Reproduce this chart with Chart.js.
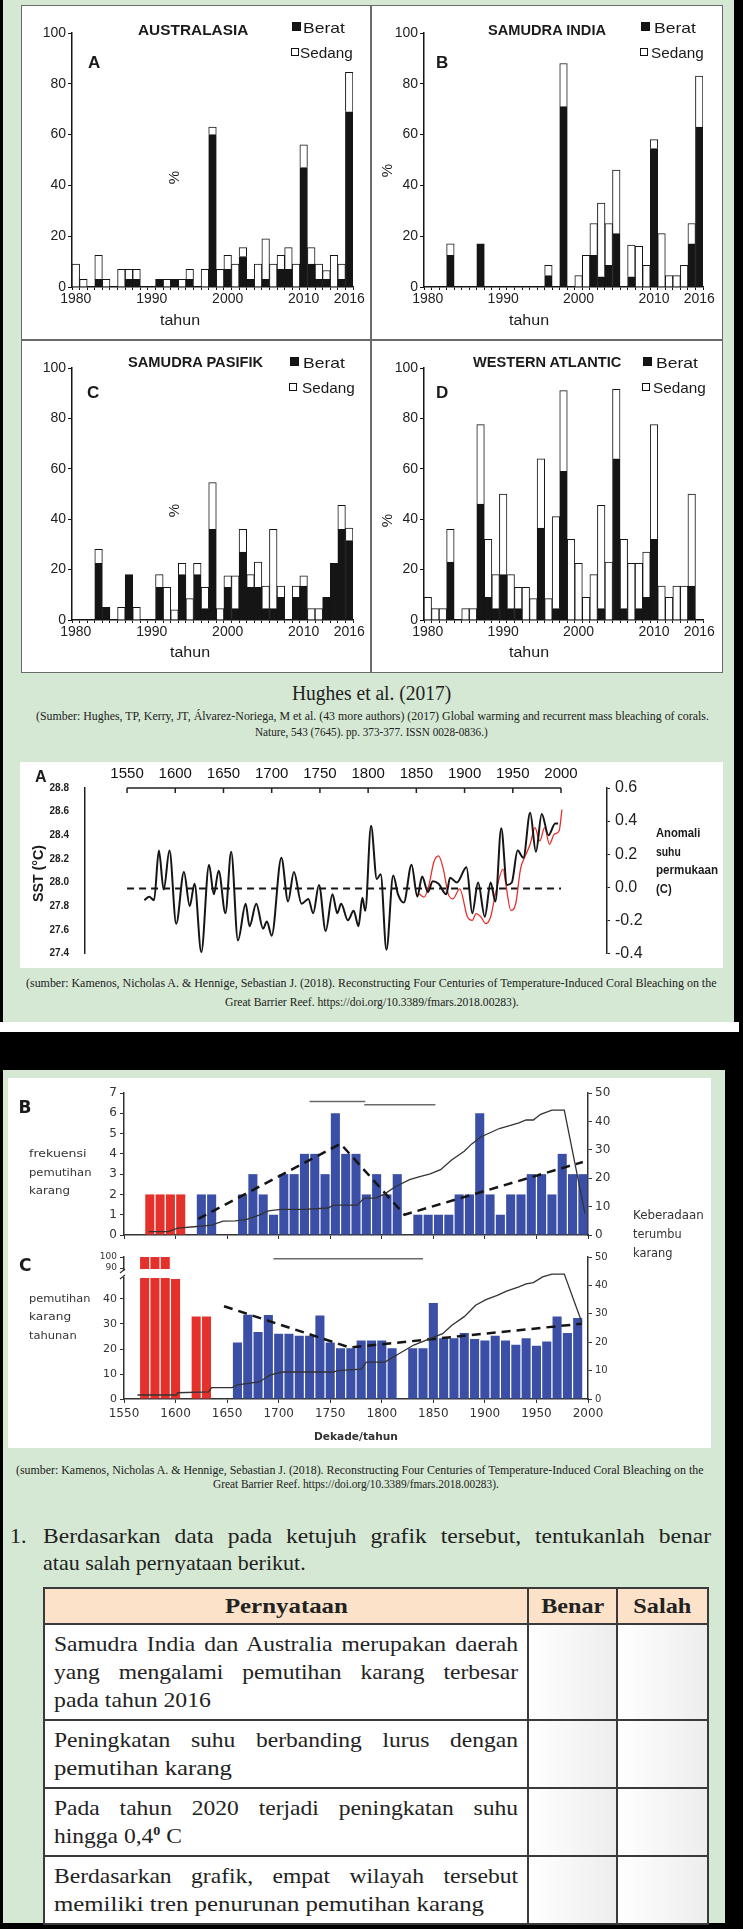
<!DOCTYPE html>
<html lang="id">
<head>
<meta charset="utf-8">
<title>Pemutihan karang</title>
<script src="https://cdn.jsdelivr.net/npm/chart.js@4.4.1/dist/chart.umd.min.js"></script>
<style>
  html, body { margin: 0; padding: 0; }
  body { width: 743px; height: 1929px; background: #000; position: relative; overflow: hidden;
         font-family: 'Liberation Sans', Arial, sans-serif; color: #1a1a1a; }
  .blk { position: absolute; }
  .green { background: #d5e8d3; }
  canvas { position: absolute; }
  .t { position: absolute; white-space: nowrap; line-height: 1; }
  .sq { position: absolute; box-sizing: border-box; border: 1px solid #111; }
  #tbl { position: absolute; left: 43px; top: 1587px; width: 664px; border-collapse: collapse;
         table-layout: fixed; font-family: 'Liberation Serif', serif; font-size: 22px; color: #222; }
  #tbl th, #tbl td { border: 2px solid #3a3a3a; padding: 5px 9px; vertical-align: top; line-height: 28px; }
  #tbl th { background: #fce2c8; text-align: center; vertical-align: middle; padding: 0; }
  #tbl td.st { background: #fff; }
  #tbl td.box { background: linear-gradient(to right, #fff, #ededed); }
  .ln { display: block; width: max-content; white-space: nowrap; transform-origin: 0 50%; }
  th .ln { display: inline-block; transform-origin: 50% 50%; }
  sup { font-size: 0.6em; font-weight: bold; line-height: 0; }
</style>
</head>
<body>

<div class="blk green" style="left:3px;top:0;width:731px;height:1022px"></div>
<div class="blk" style="left:0;top:1022px;width:739px;height:10px;background:#fff"></div>
<div class="blk green" style="left:3px;top:1070px;width:722px;height:853px"></div>

<!-- kotak empat panel -->
<div class="blk" style="left:21px;top:5px;width:702px;height:668px;background:#fff;border:1.5px solid #6a6a6a;box-sizing:border-box"></div>
<div class="blk" style="left:370px;top:5px;width:1.5px;height:668px;background:#6a6a6a"></div>
<div class="blk" style="left:21px;top:339px;width:702px;height:1.5px;background:#6a6a6a"></div>
<canvas id="cA" width="349" height="335" style="left:22px;top:5px"></canvas>
<canvas id="cB" width="352" height="335" style="left:371px;top:5px"></canvas>
<canvas id="cC" width="349" height="333" style="left:22px;top:340px"></canvas>
<canvas id="cD" width="352" height="333" style="left:371px;top:340px"></canvas>

<!-- grafik SST -->
<div class="blk" style="left:20px;top:762px;width:703px;height:206px;background:#fff"></div>
<canvas id="cSST" width="703" height="206" style="left:20px;top:762px"></canvas>

<!-- grafik B / C dekade -->
<div class="blk" style="left:8px;top:1078px;width:703px;height:370px;background:#fff"></div>
<canvas id="cFreq" width="703" height="170" style="left:8px;top:1078px"></canvas>
<canvas id="cAnnual" width="703" height="200" style="left:8px;top:1248px"></canvas>

<table id="tbl">
  <colgroup><col style="width:484px"><col style="width:89px"><col style="width:91px"></colgroup>
  <tr style="height:36px">
    <th><span class="ln" data-w="123">Pernyataan</span></th>
    <th><span class="ln" data-w="63">Benar</span></th>
    <th><span class="ln" data-w="58">Salah</span></th>
  </tr>
  <tr style="height:95px">
    <td class="st">
      <div class="ln" data-w="464" data-j="1">Samudra India dan Australia merupakan daerah</div>
      <div class="ln" data-w="464" data-j="1">yang mengalami pemutihan karang terbesar</div>
      <div class="ln" data-w="157">pada tahun 2016</div>
    </td><td class="box"></td><td class="box"></td>
  </tr>
  <tr style="height:65px">
    <td class="st">
      <div class="ln" data-w="464" data-j="1">Peningkatan suhu berbanding lurus dengan</div>
      <div class="ln" data-w="178">pemutihan karang</div>
    </td><td class="box"></td><td class="box"></td>
  </tr>
  <tr style="height:66px">
    <td class="st">
      <div class="ln" data-w="464" data-j="1">Pada tahun 2020 terjadi peningkatan suhu</div>
      <div class="ln" data-w="128">hingga 0,4<sup>0</sup> C</div>
    </td><td class="box"></td><td class="box"></td>
  </tr>
  <tr style="height:65px">
    <td class="st">
      <div class="ln" data-w="464" data-j="1">Berdasarkan grafik, empat wilayah tersebut</div>
      <div class="ln" data-w="430">memiliki tren penurunan pemutihan karang</div>
    </td><td class="box"></td><td class="box"></td>
  </tr>
</table>

<script>
// ── Data: Hughes et al. (2017), persen terumbu yang memutih per tahun ──
const YEARS = Array.from({ length: 37 }, (_, i) => 1980 + i);
const YEAR_LABELS = [1980, 1990, 2000, 2010, 2016];

const AUS_TOTAL = [9, 3, 0, 12.5, 3, 0, 7, 7, 7, 0,   0, 3, 3, 3, 3, 7, 0, 7, 63, 7,
                   12.5, 9, 15.5, 3, 9, 19, 9, 12.5, 15.5, 9,   56, 15.5, 9, 6.5, 12.5, 9, 84.5];
const AUS_BERAT = [0, 0, 0, 3, 0, 0, 0, 3, 3, 0,   0, 3, 0, 3, 0, 3, 0, 0, 60, 0,
                   7, 0, 12, 3, 0, 3, 0, 7, 7, 0,   47, 9, 3, 3, 0, 3, 69];

const IND_TOTAL = [0, 0, 0, 17, 0, 0, 0, 17, 0, 0,   0, 0, 0, 0, 0, 0, 8.5, 0, 88, 0,
                   4.5, 12.5, 25, 33, 25, 46, 0, 16.5, 16, 8.5,   58, 21, 4.5, 4.5, 8.5, 25, 83];
const IND_BERAT = [0, 0, 0, 12.5, 0, 0, 0, 17, 0, 0,   0, 0, 0, 0, 0, 0, 4.5, 0, 71, 0,
                   0, 0, 12.5, 4, 8.5, 21, 0, 4, 0, 0,   54.5, 0, 0, 0, 0, 17, 63];

const PAC_TOTAL = [0, 0, 0, 28, 5, 0, 5, 18, 5, 0,   0, 18, 13, 4, 22.5, 8.5, 22.5, 13, 54.5, 4.5,
                   17.5, 17.5, 36, 18, 23, 13.5, 36, 13.5, 0, 13.5,   17.5, 4.5, 4.5, 9, 22.5, 45.5, 36.5];
const PAC_BERAT = [0, 0, 0, 22.5, 5, 0, 0, 18, 0, 0,   0, 13, 0, 0, 18, 0, 18, 4.5, 36, 0,
                   13, 4.5, 27, 13, 13, 4.5, 4.5, 9, 0, 9,   13.5, 0, 0, 9, 22.5, 36, 31.5];

const ATL_TOTAL = [9, 4.5, 4.5, 36, 0, 4.5, 4.5, 77.5, 32, 18,   50, 18, 13, 13, 8.5, 64, 8.5, 41, 91, 32,
                   22.5, 9, 18, 45.5, 23, 91.5, 32, 22.5, 22.5, 27,   77.5, 13.5, 9, 13.5, 13.5, 50, 0];
const ATL_BERAT = [0, 0, 0, 23, 0, 0, 0, 46, 9, 4.5,   18, 4.5, 4.5, 0, 0, 36.5, 0, 4.5, 59, 0,
                   0, 0, 0, 4.5, 0, 64, 4.5, 0, 4.5, 9,   32, 0, 0, 0, 0, 13.5, 0];

// ── Data: SST Great Barrier Reef (Kamenos & Hennige 2018) ──
const SST_YEARS = [1568, 1573, 1578, 1583, 1588, 1594, 1601, 1609, 1615, 1620, 1627, 1635, 1640, 1645,
  1652, 1658, 1665, 1673, 1677, 1684, 1691, 1695, 1700, 1710, 1717, 1723, 1731, 1738, 1743, 1749, 1756,
  1763, 1768, 1772, 1779, 1785, 1790, 1794, 1797, 1803, 1809, 1813, 1819, 1826, 1831, 1837, 1845, 1851,
  1856, 1862, 1867, 1873, 1881, 1885, 1892, 1902, 1908, 1914, 1921, 1927, 1932, 1938, 1944, 1949, 1955,
  1961, 1968, 1974, 1980, 1987, 1994, 1997];
const SST_VALUES = [27.85, 27.88, 27.85, 28.27, 27.94, 28.27, 27.65, 28.09, 27.80, 27.99, 27.41, 28.15,
  27.90, 28.10, 27.74, 28.26, 27.51, 27.82, 27.63, 27.82, 27.61, 27.67, 27.55, 28.21, 27.84, 28.09, 27.82,
  27.86, 27.74, 27.98, 27.59, 27.90, 27.74, 27.82, 27.68, 27.76, 27.63, 27.87, 27.76, 28.48, 28.03, 28.07,
  27.43, 28.06, 27.90, 27.83, 28.15, 27.88, 28.05, 27.92, 28.01, 27.99, 27.90, 28.04, 28.00, 28.13, 27.74,
  28.00, 27.71, 28.00, 27.84, 28.46, 27.98, 28.00, 28.27, 28.21, 28.59, 28.26, 28.58, 28.40, 28.50, 28.50];
const SST_MEAN = 27.95;
const SST_MEAN_SPAN = [1550, 2000];

const ANOM_YEARS = [1853, 1858, 1863, 1868, 1873, 1878, 1883, 1888, 1895, 1903, 1908, 1912, 1917, 1922,
  1927, 1932, 1940, 1943, 1948, 1953, 1958, 1963, 1968, 1973, 1978, 1983, 1988, 1993, 1998, 2001];
const ANOM_VALUES = [-0.04, -0.06, 0.01, 0.15, 0.19, 0.11, -0.04, -0.07, -0.01, -0.18, -0.20, -0.16, -0.18,
  -0.22, -0.18, -0.04, 0.11, 0.01, -0.14, -0.10, 0.11, 0.19, 0.26, 0.36, 0.28, 0.36, 0.26, 0.32, 0.34, 0.47];

const SST_TICKS = [1550, 1600, 1650, 1700, 1750, 1800, 1850, 1900, 1950, 2000];
const SST_LEFT_TICKS = [27.4, 27.6, 27.8, 28.0, 28.2, 28.4, 28.6, 28.8];
const SST_RIGHT_TICKS = [-0.4, -0.2, 0.0, 0.2, 0.4, 0.6];

// ── Data: frekuensi pemutihan per dekade (B) ──
const FREQ_RED_DECADES = [1570, 1580, 1590, 1600];
const FREQ_RED = [2, 2, 2, 2];
const FREQ_BLUE_DECADES = [1620, 1630, 1640, 1650, 1660, 1670, 1680, 1690, 1700, 1710, 1720, 1730, 1740,
  1750, 1760, 1770, 1780, 1790, 1800, 1810, 1820, 1830, 1840, 1850, 1860, 1870, 1880, 1890, 1900, 1910,
  1920, 1930, 1940, 1950, 1960, 1970, 1980, 1990];
const FREQ_BLUE = [2, 2, 0, 0, 2, 3, 2, 1, 3, 3, 4, 4, 3, 6, 4, 4, 2, 3, 2, 3, 0, 1, 1, 1, 1, 2, 2, 6, 2, 1,
  2, 2, 3, 3, 2, 4, 3, 3];
const FREQ_TREND_YEARS = [1622, 1760, 1822, 1995];
const FREQ_TREND = [0.8, 4.5, 1.0, 3.6];
const REEF_B_YEARS = [1574, 1593, 1602, 1618, 1635, 1646, 1658, 1669, 1681, 1690, 1702, 1725, 1748, 1753,
  1776, 1783, 1794, 1803, 1813, 1827, 1836, 1847, 1857, 1868, 1880, 1887, 1896, 1905, 1914, 1924, 1933,
  1940, 1947, 1954, 1965, 1975, 1977, 1997];
const REEF_B = [1.2, 1.2, 2.4, 2.9, 3.5, 4.9, 5, 5.5, 7, 8.5, 9, 9, 9.5, 10.5, 10.5, 13, 13, 14.5, 17, 19.5,
  20.5, 21.5, 23, 26.5, 29.5, 32, 34.5, 36, 37.5, 38.5, 39.5, 40.5, 40.5, 42.5, 44, 44, 44, 7.6];
const FREQ_PERIODS = [[1730, 1784], [1783, 1852]];
const FREQ_PERIOD_LEVELS = [47, 45.9];

// ── Data: persen pemutihan karang tahunan (C) ──
const ANN_RED_YEARS = [1565, 1575, 1585, 1595, 1615, 1625];
const ANN_RED = [100, 100, 100, 48, 33, 33];
const ANN_BLUE_YEARS = [1655, 1665, 1675, 1685, 1695, 1705, 1715, 1725, 1735, 1745, 1755, 1765, 1775, 1785,
  1795, 1805, 1815, 1825, 1835, 1845, 1855, 1865, 1875, 1885, 1895, 1905, 1915, 1925, 1935, 1945, 1955,
  1965, 1975, 1985];
const ANN_BLUE = [22.6, 33.7, 26.8, 33.6, 26.1, 26.1, 25.3, 25.3, 33.4, 22.6, 20.3, 20.3, 23.4, 23.4, 23.4,
  20.3, 0, 20.3, 20.3, 38.4, 24.3, 24.3, 26.4, 24, 23.4, 25.3, 23.4, 21.7, 24.3, 21.3, 23, 33, 26.4, 32.4];
const ANN_TREND_YEARS = [1647, 1769, 1994];
const ANN_TREND = [37.1, 20.6, 30.1];
const REEF_C_YEARS = [1563, 1601, 1602, 1632, 1635, 1655, 1660, 1681, 1692, 1704, 1753, 1757, 1780, 1785,
  1803, 1817, 1831, 1845, 1859, 1868, 1880, 1891, 1901, 1912, 1921, 1933, 1940, 1947, 1956, 1965, 1975,
  1977, 1994];
const REEF_C = [1.4, 1.4, 2.2, 2.5, 4, 4, 5, 6, 8.5, 9.5, 9.5, 10, 10.5, 13, 13, 16, 19, 21, 23, 26, 29, 33,
  35, 36.5, 38, 39.5, 40.5, 41, 43, 44, 44, 44, 27];
const ANN_PERIOD = [1695, 1840];
const ANN_PERIOD_LEVEL = 49.4;
const DECADE_TICKS = [1550, 1600, 1650, 1700, 1750, 1800, 1850, 1900, 1950, 2000];

const RED = '#e4312b';
const BLUE = '#3b4fa6';
const INK = '#151515';

Chart.defaults.font.family = "'Liberation Sans', Arial, sans-serif";
Chart.defaults.color = '#222';

const baseOpts = {
  responsive: false, animation: false, devicePixelRatio: 1,
  plugins: { legend: { display: false }, tooltip: { enabled: false } },
};

// ── Panel batang bertumpuk (Berat / Sedang) ──
function regionPanel(id, berat, total, yWidth, padRight, xHeight) {
  const sedang = total.map((t, i) => Math.max(0, +(t - berat[i]).toFixed(1)));
  return new Chart(document.getElementById(id), {
    type: 'bar',
    data: {
      labels: YEARS,
      datasets: [
        { label: 'Berat', data: berat, backgroundColor: INK, borderColor: INK, borderWidth: 1 },
        { label: 'Sedang', data: sedang, backgroundColor: '#fff', borderColor: INK, borderWidth: 1 },
      ],
    },
    options: {
      ...baseOpts,
      layout: { padding: { left: 0, right: padRight, top: 28, bottom: 0 } },
      datasets: { bar: { barPercentage: 1, categoryPercentage: 1 } },
      scales: {
        x: {
          stacked: true,
          grid: { drawOnChartArea: false, tickLength: 3, color: INK },
          border: { color: INK, width: 1.5 },
          ticks: {
            autoSkip: false, maxRotation: 0, padding: 1, color: '#222', font: { size: 14 },
            callback: (v, i) => (YEAR_LABELS.includes(YEARS[i]) ? String(YEARS[i]) : ''),
          },
          afterFit: s => { s.height = xHeight; },
        },
        y: {
          stacked: true, min: 0, max: 100,
          grid: { drawOnChartArea: false, tickLength: 4, color: INK },
          border: { color: INK, width: 1.5 },
          ticks: { stepSize: 20, padding: 2, color: '#222', font: { size: 14 } },
          afterFit: s => { s.width = yWidth; },
        },
      },
    },
  });
}

regionPanel('cA', AUS_BERAT, AUS_TOTAL, 50, 18, 53);
regionPanel('cB', IND_BERAT, IND_TOTAL, 53, 20, 53);
regionPanel('cC', PAC_BERAT, PAC_TOTAL, 50, 18, 53);
regionPanel('cD', ATL_BERAT, ATL_TOTAL, 53, 20, 53);

// ── Grafik SST ──
const topAxisLine = {
  id: 'topAxisLine',
  afterDraw(chart) {
    const { ctx, chartArea, scales: { x } } = chart;
    const y = chartArea.top;
    ctx.save();
    ctx.strokeStyle = '#222';
    ctx.lineWidth = 1.5;
    ctx.beginPath();
    ctx.moveTo(x.getPixelForValue(SST_TICKS[0]), y);
    ctx.lineTo(x.getPixelForValue(SST_TICKS[SST_TICKS.length - 1]), y);
    SST_TICKS.forEach(t => {
      const px = x.getPixelForValue(t);
      ctx.moveTo(px, y);
      ctx.lineTo(px, y + 5);
    });
    ctx.stroke();
    ctx.restore();
  },
};

new Chart(document.getElementById('cSST'), {
  type: 'line',
  data: {
    datasets: [
      { data: SST_YEARS.map((x, i) => ({ x, y: SST_VALUES[i] })), borderColor: INK, borderWidth: 2,
        pointRadius: 0, cubicInterpolationMode: 'monotone' },
      { data: ANOM_YEARS.map((x, i) => ({ x, y: ANOM_VALUES[i] })), yAxisID: 'y2', borderColor: RED,
        borderWidth: 1.3, pointRadius: 0, cubicInterpolationMode: 'monotone' },
      { data: SST_MEAN_SPAN.map(x => ({ x, y: SST_MEAN })), borderColor: INK, borderWidth: 2,
        borderDash: [7, 5], pointRadius: 0 },
    ],
  },
  options: {
    ...baseOpts,
    layout: { padding: { left: 0, right: 0, top: 0, bottom: 6 } },
    scales: {
      x: {
        type: 'linear', position: 'top', min: 1506.4, max: 2047.7,
        grid: { display: false, drawTicks: false }, border: { display: false },
        afterBuildTicks: s => { s.ticks = SST_TICKS.map(value => ({ value })); },
        ticks: { padding: 5, color: '#111', font: { size: 15 }, callback: v => String(v) },
        afterFit: s => { s.height = 26; },
      },
      y: {
        min: 27.4, max: 28.8,
        grid: { display: false }, border: { color: '#222', width: 1.5 },
        afterBuildTicks: s => { s.ticks = SST_LEFT_TICKS.map(value => ({ value })); },
        ticks: { padding: 8, color: '#222', font: { size: 10, weight: 'bold' }, callback: v => v.toFixed(1) },
        afterFit: s => { s.width = 65; },
      },
      y2: {
        position: 'right', min: -0.4, max: 0.6,
        grid: { drawOnChartArea: false, tickLength: 3, color: '#222' }, border: { color: '#222', width: 1.5 },
        afterBuildTicks: s => { s.ticks = SST_RIGHT_TICKS.map(value => ({ value })); },
        ticks: { padding: 5, color: '#222', font: { size: 16 }, callback: v => (Math.round(v * 10) / 10).toFixed(1) },
        afterFit: s => { s.width = 116; },
      },
    },
  },
  plugins: [topAxisLine],
});

// ── Grafik dekade B / C ──
const xy = (xs, ys, shift = 0) => xs.map((x, i) => ({ x: x + shift, y: ys[i] }));
const lineDs = (data, axis, extra = {}) => ({
  type: 'line', data, yAxisID: axis, pointRadius: 0, borderWidth: 1.3, borderColor: '#333', order: 0, ...extra,
});
const barDs = (data, color) => ({
  type: 'bar', data, backgroundColor: color, borderWidth: 0, grouped: false,
  barPercentage: 0.88, categoryPercentage: 1, order: 1,
});
const decadeX = (showLabels, height) => ({
  type: 'linear', min: 1550, max: 2000, offset: false,
  grid: { drawOnChartArea: false, offset: false, tickLength: 4, color: '#333' },
  border: { color: '#333', width: 1.5 },
  afterBuildTicks: s => { s.ticks = DECADE_TICKS.map(value => ({ value })); },
  ticks: { display: showLabels, padding: 4, color: '#333', font: { family: "'DejaVu Sans', sans-serif", size: 12 },
           callback: v => String(v) },
  afterFit: s => { s.height = height; },
});

new Chart(document.getElementById('cFreq'), {
  type: 'bar',
  data: {
    datasets: [
      lineDs(xy(REEF_B_YEARS, REEF_B), 'y2'),
      lineDs(xy(FREQ_TREND_YEARS, FREQ_TREND), 'y', { borderColor: INK, borderWidth: 2.5, borderDash: [9, 6] }),
      ...FREQ_PERIODS.map((p, i) => lineDs(p.map(x => ({ x, y: FREQ_PERIOD_LEVELS[i] })), 'y2',
        { borderColor: '#6a6a6a', borderWidth: 1.5 })),
      barDs(xy(FREQ_RED_DECADES, FREQ_RED, 5), RED),
      barDs(xy(FREQ_BLUE_DECADES, FREQ_BLUE, 5), BLUE),
    ],
  },
  options: {
    ...baseOpts,
    layout: { padding: { left: 0, right: 0, top: 15, bottom: 0 } },
    scales: {
      x: decadeX(false, 13),
      y: {
        min: 0, max: 7,
        grid: { drawOnChartArea: false, tickLength: 4, color: '#333' }, border: { color: '#333', width: 1.5 },
        ticks: { stepSize: 1, padding: 3, color: '#333', font: { family: "'DejaVu Sans', sans-serif", size: 12 } },
        afterFit: s => { s.width = 116; },
      },
      y2: {
        position: 'right', min: 0, max: 50,
        grid: { drawOnChartArea: false, tickLength: 4, color: '#333' }, border: { color: '#333', width: 1.5 },
        ticks: { stepSize: 10, padding: 3, color: '#333', font: { family: "'DejaVu Sans', sans-serif", size: 12 } },
        afterFit: s => { s.width = 123; },
      },
    },
  },
});

// sumbu kiri C terpotong antara ~48 dan 90
const BREAK_LOW = 48.4;
const BREAK_FROM = 52.0;
const AXIS_90 = 52.4;
const AXIS_100 = 56.8;
const upperAxis = v => AXIS_90 + (v - 90) * (AXIS_100 - AXIS_90) / 10;

const axisBreak = {
  id: 'axisBreak',
  afterDraw(chart) {
    const { ctx, scales: { y } } = chart;
    const x0 = y.right;
    const yTop = y.getPixelForValue(51.2);
    const yBot = y.getPixelForValue(BREAK_LOW + 0.4);
    ctx.save();
    ctx.fillStyle = '#fff';
    ctx.fillRect(x0 - 3, yTop, 6, yBot - yTop);
    ctx.strokeStyle = '#333';
    ctx.lineWidth = 1.2;
    ctx.beginPath();
    ctx.moveTo(x0 - 4, yTop + 2); ctx.lineTo(x0 + 1, yTop - 2);
    ctx.moveTo(x0 - 4, yBot + 2); ctx.lineTo(x0 + 1, yBot - 2);
    ctx.stroke();
    ctx.restore();
  },
};

const annRedLow = ANN_RED.map(v => Math.min(v, BREAK_LOW));
const annRedHigh = ANN_RED_YEARS.map((x, i) => (ANN_RED[i] >= 90 ? { x: x + 5, y: [BREAK_FROM, upperAxis(ANN_RED[i])] } : null))
  .filter(Boolean);

new Chart(document.getElementById('cAnnual'), {
  type: 'bar',
  data: {
    datasets: [
      lineDs(xy(REEF_C_YEARS, REEF_C), 'y2'),
      lineDs(xy(ANN_TREND_YEARS, ANN_TREND), 'y', { borderColor: INK, borderWidth: 2.5, borderDash: [9, 6] }),
      lineDs(ANN_PERIOD.map(x => ({ x, y: ANN_PERIOD_LEVEL })), 'y2', { borderColor: '#6a6a6a', borderWidth: 1.5 }),
      barDs(xy(ANN_RED_YEARS, annRedLow, 5), RED),
      barDs(annRedHigh, RED),
      barDs(xy(ANN_BLUE_YEARS, ANN_BLUE, 5), BLUE),
    ],
  },
  options: {
    ...baseOpts,
    layout: { padding: { left: 0, right: 0, top: 9, bottom: 0 } },
    scales: {
      x: decadeX(true, 49),
      y: {
        min: 0, max: AXIS_100,
        grid: { drawOnChartArea: false, tickLength: 4, color: '#333' }, border: { color: '#333', width: 1.5 },
        afterBuildTicks: s => { s.ticks = [0, 10, 20, 30, 40, AXIS_90, AXIS_100].map(value => ({ value })); },
        ticks: {
          padding: 3, color: '#333',
          font: c => ({ family: "'DejaVu Sans', sans-serif", size: c.tick && c.tick.value > 50 ? 9 : 11 }),
          callback: v => (v === AXIS_90 ? '90' : v === AXIS_100 ? '100' : String(v)),
        },
        afterFit: s => { s.width = 116; },
      },
      y2: {
        position: 'right', min: 0, max: 50,
        grid: { drawOnChartArea: false, tickLength: 4, color: '#333' }, border: { color: '#333', width: 1.5 },
        ticks: { stepSize: 10, padding: 3, color: '#333', font: { family: "'DejaVu Sans', sans-serif", size: 10 } },
        afterFit: s => { s.width = 123; },
      },
    },
  },
  plugins: [axisBreak],
});

// ── Teks di atas gambar ──
const SANS = "'Liberation Sans', Arial, sans-serif";
const SERIF = "'Liberation Serif', 'DejaVu Serif', serif";
const DEJA = "'DejaVu Sans', sans-serif";

// lebar baris rata kiri-kanan: sedikit diperlebar, sisanya jadi spasi kata
function justify(el, target) {
  const w0 = el.getBoundingClientRect().width;
  const sx = Math.max(1, Math.min(1.07, target / w0));
  const spaces = (el.textContent.trim().match(/ /g) || []).length;
  el.style.wordSpacing = ((target / sx - w0) / spaces) + 'px';
  return sx;
}

// o.w: lebar target (diskalakan), o.justify: rata kiri-kanan sampai o.w
function put(text, x, y, o = {}) {
  const d = document.createElement('div');
  d.className = 't';
  d.innerHTML = text;
  d.style.font = `${o.bold ? 'bold ' : ''}${o.size || 14}px ${o.font || SANS}`;
  d.style.color = o.color || '#1a1a1a';
  document.body.appendChild(d);
  const w0 = d.offsetWidth;
  let s = 1;
  if (o.justify) s = justify(d, o.w);
  else if (o.w) s = o.w / w0;
  const w1 = d.offsetWidth, h0 = d.offsetHeight;
  let tf = s !== 1 ? `scaleX(${s})` : '';
  if (o.rot) {
    d.style.left = (x - w1 / 2) + 'px';
    d.style.transformOrigin = '50% 50%';
    tf = `rotate(${o.rot}deg) ` + tf;
  } else {
    d.style.left = (o.center ? x - (w1 * s) / 2 : x) + 'px';
    d.style.transformOrigin = '0 50%';
  }
  d.style.top = (y - h0 / 2) + 'px';
  d.style.transform = tf;
}

function square(x, y, size, filled) {
  const d = document.createElement('div');
  d.className = 'sq';
  Object.assign(d.style, { left: x + 'px', top: y + 'px', width: size + 'px', height: size + 'px',
    background: filled ? INK : '#fff' });
  document.body.appendChild(d);
}

// panel A–D: judul, huruf, legenda, "%", "tahun"
const PANELS = [
  { title: 'AUSTRALASIA', tx: 138, tw: 110, ty: 30, letter: 'A', lx: 88, ly: 63, sq: 292, bx: 303, sx: 300,
    by: 27, sy: 52, pct: [173, 177], tahun: [180, 320] },
  { title: 'SAMUDRA INDIA', tx: 488, tw: 118, ty: 30, letter: 'B', lx: 436, ly: 63, sq: 641, bx: 654, sx: 651,
    by: 27, sy: 52, pct: [386, 170], tahun: [529, 320] },
  { title: 'SAMUDRA PASIFIK', tx: 128, tw: 135, ty: 362, letter: 'C', lx: 87, ly: 393, sq: 290, bx: 303, sx: 302,
    by: 362, sy: 387, pct: [173, 510], tahun: [190, 652] },
  { title: 'WESTERN ATLANTIC', tx: 473, tw: 148, ty: 362, letter: 'D', lx: 436, ly: 393, sq: 643, bx: 656, sx: 653,
    by: 362, sy: 387, pct: [386, 520], tahun: [529, 652] },
];
PANELS.forEach(p => {
  put(p.title, p.tx, p.ty, { bold: true, size: 14, w: p.tw });
  put(p.letter, p.lx, p.ly, { bold: true, size: 17 });
  square(p.sq, p.by - 5, 9, true);
  put('Berat', p.bx, p.by, { size: 15, w: 42 });
  square(p.sq - 1, p.sy - 4, 8, false);
  put('Sedang', p.sx, p.sy, { size: 15, w: 53 });
  put('%', p.pct[0], p.pct[1], { size: 15, rot: -90 });
  put('tahun', p.tahun[0], p.tahun[1], { size: 14, center: true, w: 40 });
});

put('Hughes et al. (2017)', 371, 693, { font: SERIF, size: 20, w: 159, center: true, color: '#222' });
put('(Sumber: Hughes, TP, Kerry, JT, Álvarez-Noriega, M et al. (43 more authors) (2017) Global warming and recurrent mass bleaching of corals.',
  36, 716, { font: SERIF, size: 12, w: 673, color: '#222' });
put('Nature, 543 (7645). pp. 373-377. ISSN 0028-0836.)', 371, 732, { font: SERIF, size: 12, w: 233, center: true, color: '#222' });

// SST
put('A', 35, 777, { bold: true, size: 16 });
put('SST (°C)', 37, 873, { bold: true, size: 15, rot: -90, w: 57 });
put('Anomali', 656, 833, { bold: true, size: 12, w: 44 });
put('suhu', 656, 852, { bold: true, size: 12, w: 25 });
put('permukaan', 656, 870, { bold: true, size: 12, w: 62 });
put('(C)', 656, 889, { bold: true, size: 12, w: 16 });

put('(sumber: Kamenos, Nicholas A. &amp; Hennige, Sebastian J. (2018). Reconstructing Four Centuries of Temperature-Induced Coral Bleaching on the',
  26, 983, { font: SERIF, size: 12, w: 690, color: '#222' });
put('Great Barrier Reef. https://doi.org/10.3389/fmars.2018.00283).', 225, 1002, { font: SERIF, size: 12, w: 294, color: '#222' });

// B / C dekade
put('B', 25, 1107, { bold: true, size: 17, center: true, font: DEJA });
put('frekuensi', 29, 1153, { size: 11, font: DEJA, w: 57, color: '#333' });
put('pemutihan', 29, 1172, { size: 11, font: DEJA, w: 63, color: '#333' });
put('karang', 29, 1190, { size: 11, font: DEJA, w: 41, color: '#333' });
put('Keberadaan', 633, 1215, { size: 12, font: DEJA, w: 71, color: '#333' });
put('terumbu', 633, 1234, { size: 12, font: DEJA, w: 49, color: '#333' });
put('karang', 633, 1253, { size: 12, font: DEJA, w: 40, color: '#333' });
put('C', 25, 1265, { bold: true, size: 17, center: true, font: DEJA });
put('pemutihan', 29, 1298, { size: 11, font: DEJA, w: 62, color: '#333' });
put('karang', 29, 1316, { size: 11, font: DEJA, w: 42, color: '#333' });
put('tahunan', 29, 1335, { size: 11, font: DEJA, w: 48, color: '#333' });
put('Dekade/tahun', 356, 1436, { bold: true, size: 11, font: DEJA, w: 84, center: true, color: '#333' });

put('(sumber: Kamenos, Nicholas A. &amp; Hennige, Sebastian J. (2018). Reconstructing Four Centuries of Temperature-Induced Coral Bleaching on the',
  16, 1470, { font: SERIF, size: 12, w: 687, color: '#222' });
put('Great Barrier Reef. https://doi.org/10.3389/fmars.2018.00283).', 213, 1484, { font: SERIF, size: 12, w: 286, color: '#222' });

// soal
put('1.', 10, 1536, { font: SERIF, size: 22, color: '#222' });
put('Berdasarkan data pada ketujuh grafik tersebut, tentukanlah benar', 43, 1536,
  { font: SERIF, size: 22, w: 668, justify: true, color: '#222' });
put('atau salah pernyataan berikut.', 43, 1563, { font: SERIF, size: 22, color: '#222' });

// tabel: sesuaikan lebar tiap baris teks
document.querySelectorAll('#tbl [data-w]').forEach(el => {
  const target = +el.dataset.w;
  if (el.dataset.j) {
    el.style.transform = `scaleX(${justify(el, target)})`;
  } else {
    el.style.transform = `scaleX(${target / el.getBoundingClientRect().width})`;
  }
});
</script>
</body>
</html>
